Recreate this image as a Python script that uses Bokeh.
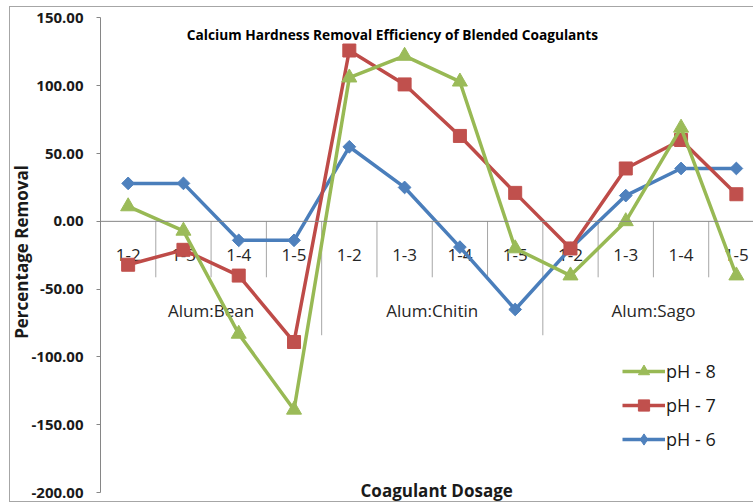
import numpy as np
from bokeh.plotting import figure
from bokeh.models import (Range1d, FixedTicker, PrintfTickFormatter, Span, Label,
                          Legend, LegendItem, InlineStyleSheet)
from bokeh.core.properties import value
from bokeh.embed import file_html
from bokeh.resources import INLINE

# ---------------- data ----------------
groups = ["Alum:Bean", "Alum:Chitin", "Alum:Sago"]
doses = ["1-2", "1-3", "1-4", "1-5"]
ph8 = [11, -7, -83, -139, 106, 122, 103, -20, -40, 0, 69, -40]
ph7 = [-32, -21, -40, -89, 126, 101, 63, 21, -20, 39, 60, 20]
ph6 = [28, 28, -14, -14, 55, 25, -19, -65, -20, 19, 39, 39]
y_ticks = [-200, -150, -100, -50, 0, 50, 100, 150]
title_text = "Calcium Hardness Removal Efficiency of Blended Coagulants"
x_title = "Coagulant Dosage"
y_title = "Percentage Removal"

# --------------- derived ---------------
n_d = len(doses)
xs = list(range(len(groups) * n_d))
tick_labels = doses * len(groups)
group_centers = [g * n_d + (n_d - 1) / 2 for g in range(len(groups))]
minor_sep = [g * n_d + k - 0.5 for g in range(len(groups)) for k in range(1, n_d)]
group_sep = [g * n_d - 0.5 for g in range(len(groups) + 1)]

FONT = "Open Sans"
GRAY = "#868686"
SEP = "#a6a6a6"
TXT = "#1a1a1a"

# px -> data unit (y): 350 units over 475 px
u = 350 / 475.0

p = figure(width=753, height=503,
           x_range=Range1d(-0.5, 11.31),
           y_range=Range1d(y_ticks[0] - 11 * u, y_ticks[-1] + 17.5 * u),
           output_backend="svg", toolbar_location=None,
           x_axis_location=None,
           min_border_left=100, min_border_right=0,
           min_border_top=0, min_border_bottom=0)
p.stylesheets = [InlineStyleSheet(css="""
:host { position: relative; }
:host::after {
  content: ""; position: absolute; left: 9px; top: 6px; right: 0px; bottom: 1px;
  border-left: 1px solid #a6a6a6; border-top: 1px solid #a6a6a6;
  border-bottom: 1px solid #a6a6a6; pointer-events: none; z-index: 50;
}
""")]
p.outline_line_color = None
p.xgrid.visible = False
p.ygrid.visible = False
p.background_fill_color = "white"
p.border_fill_color = "white"

ax = p.yaxis[0]
ax.bounds = (y_ticks[0], y_ticks[-1])
ax.ticker = FixedTicker(ticks=y_ticks)
ax.formatter = PrintfTickFormatter(format="%.2f")
ax.major_label_text_font = FONT
ax.major_label_text_font_style = "bold"
ax.major_label_text_font_size = "15px"
ax.major_label_text_color = TXT
ax.axis_line_color = GRAY
ax.major_tick_line_color = GRAY
ax.major_tick_out = 4
ax.major_tick_in = 0
ax.minor_tick_out = 0
ax.minor_tick_in = 0
ax.major_label_standoff = 13
ax.axis_label = y_title
ax.axis_label_text_font = FONT
ax.axis_label_text_font_style = "bold"
ax.axis_label_text_font_size = "17px"
ax.axis_label_text_color = TXT
ax.axis_label_standoff = -4

# category axis at y = 0
p.add_layout(Span(location=0, dimension="width", line_color=GRAY, line_width=1))
p.segment(x0=minor_sep, y0=[0] * len(minor_sep), x1=minor_sep,
          y1=[-56 * u] * len(minor_sep), line_color=SEP, line_width=1)
p.segment(x0=group_sep, y0=[0] * len(group_sep), x1=group_sep,
          y1=[-114 * u] * len(group_sep), line_color=SEP, line_width=1)
p.text(x=xs, y=[0] * len(xs), text=tick_labels, y_offset=34,
       text_align="center", text_baseline="middle",
       text_font=value(FONT), text_font_size="17px", text_color="#262626")
p.text(x=group_centers, y=[0] * len(group_centers), text=groups, y_offset=89,
       text_align="center", text_baseline="middle",
       text_font=value(FONT), text_font_size="17px", text_color="#262626")

# series
series = [
    ("pH - 6", ph6, "#4A7EBB", "#4F81BD", "square", 9, np.pi / 4, "diamond"),
    ("pH - 7", ph7, "#BE4B48", "#C0504D", "square", 13, 0, "square"),
    ("pH - 8", ph8, "#98B954", "#9BBB59", "triangle", 15, 0, "triangle"),
]
items = {}
for name, vals, lc, mc, mk, sz, ang, lmk in series:
    ln = p.line(xs, vals, line_color=lc, line_width=3.5)
    if lmk != mk:
        # legend-shaped marker, fully covered by the rotated square on the plot
        sc_leg = p.scatter(xs, vals, marker=lmk, size=11,
                           fill_color=mc, line_color=mc)
    sc = p.scatter(xs, vals, marker=mk, size=sz, angle=ang,
                   fill_color=mc, line_color=mc)
    items[name] = [ln, sc_leg] if lmk != mk else [ln, sc]

legend = Legend(items=[LegendItem(label=k, renderers=items[k])
                       for k in ["pH - 8", "pH - 7", "pH - 6"]],
                location=(522, 50), padding=0, margin=0, spacing=6,
                glyph_width=43, glyph_height=28, label_standoff=1,
                border_line_color=None, background_fill_alpha=0,
                label_text_font=FONT, label_text_font_size="18px",
                label_text_color=TXT)
p.add_layout(legend)

p.add_layout(Label(x=4.78, y=137.8, text=title_text, text_align="center",
                   text_baseline="middle", text_font=FONT,
                   text_font_style="bold", text_font_size="13.7px",
                   text_color="black"))
p.add_layout(Label(x=5.58, y=-198.2, text=x_title, text_align="center",
                   text_baseline="middle", text_font=FONT,
                   text_font_style="bold", text_font_size="17px",
                   text_color=TXT))

open("out.html", "w").write(file_html(p, INLINE))
